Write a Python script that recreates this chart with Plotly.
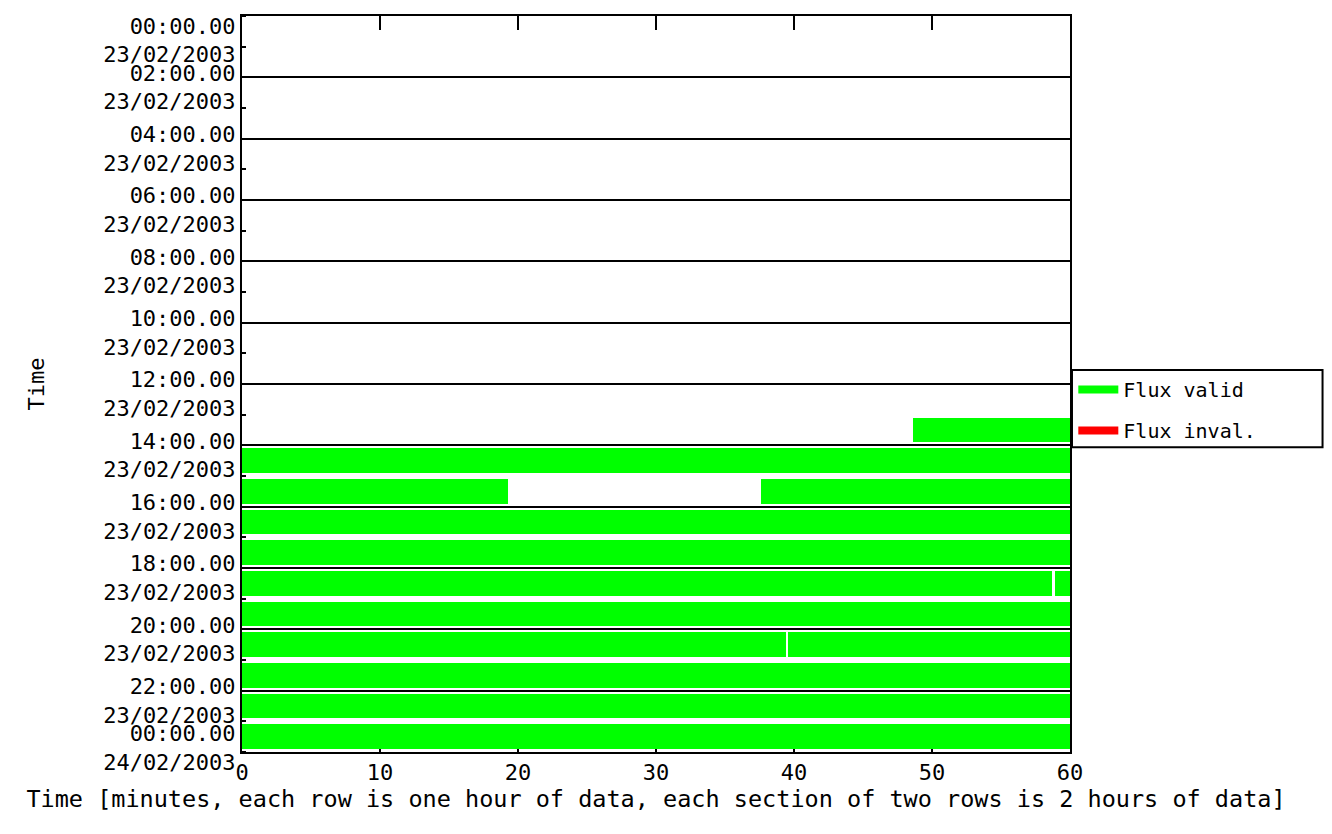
import plotly.graph_objects as go

# hour rows (0 = 00:00-01:00 on 23/02/2003) and valid flux segments [start, end) in minutes
valid_rows = [13, 14, 15, 15, 16, 17, 18, 18, 19, 20, 20, 21, 22, 23]
valid_start = [48.6, 0, 0, 37.6, 0, 0, 0, 58.9, 0, 0, 39.6, 0, 0, 0]
valid_end = [60, 60, 19.3, 60, 60, 60, 58.7, 60, 60, 39.4, 60, 60, 60, 60]

invalid_rows = []
invalid_start = []
invalid_end = []

tick_hours = [0, 2, 4, 6, 8, 10, 12, 14, 16, 18, 20, 22, 24]
tick_times = ["00:00.00", "02:00.00", "04:00.00", "06:00.00", "08:00.00", "10:00.00",
              "12:00.00", "14:00.00", "16:00.00", "18:00.00", "20:00.00", "22:00.00", "00:00.00"]
tick_dates = ["23/02/2003"] * 12 + ["24/02/2003"]
x_ticks = [0, 10, 20, 30, 40, 50, 60]

FONT = "DejaVu Sans Mono"
GREEN = "#00ff00"
RED = "#ff0000"

fig = go.Figure()
for name, color, rows, start, end in [
    ("Flux valid", GREEN, valid_rows, valid_start, valid_end),
    ("Flux inval.", RED, invalid_rows, invalid_start, invalid_end),
]:
    fig.add_trace(
        go.Bar(
            name=name,
            orientation="h",
            y=[r + 0.5 for r in rows],
            base=start,
            x=[e - s for s, e in zip(start, end)],
            width=0.8,
            marker=dict(color=color, line=dict(width=0)),
            showlegend=False,
        )
    )
    # legend key drawn as a thick short line, like the original
    fig.add_trace(
        go.Scatter(
            name=name,
            legendgroup=name,
            x=[None],
            y=[None],
            mode="lines",
            line=dict(color=color, width=8),
            showlegend=True,
        )
    )

# two-line labels; the first is pushed down and the last up so they stay inside the page
tick_text = [f"{t}<br>{d}" for t, d in zip(tick_times, tick_dates)]
tick_text[0] = "<br>" + tick_text[0]
tick_text[-1] = tick_text[-1] + "<br> "

fig.update_xaxes(
    range=[0, 60],
    tickvals=x_ticks,
    ticks="inside",
    ticklen=14,
    tickwidth=2,
    tickcolor="black",
    tickfont=dict(size=22),
    showline=True,
    linecolor="black",
    linewidth=2,
    mirror="allticks",
    showgrid=False,
    zeroline=False,
    automargin=False,
    layer="below traces",
    title=dict(
        text="Time [minutes, each row is one hour of data, each section of two rows is 2 hours of data]",
        font=dict(size=23.5),
        standoff=4,
    ),
)
fig.update_yaxes(
    range=[24, 0],
    tickvals=tick_hours,
    ticktext=tick_text,
    ticks="",
    tickfont=dict(size=22),
    ticklabeloverflow="allow",
    ticklabelshift=-10,
    showline=True,
    linecolor="black",
    linewidth=2,
    mirror=True,
    showgrid=True,
    gridcolor="black",
    gridwidth=2,
    zeroline=False,
    automargin=False,
    layer="below traces",
    minor=dict(dtick=1, tick0=0, ticks="inside", ticklen=4, tickcolor="black", tickwidth=2, showgrid=False),
    title=dict(text="Time", font=dict(size=22), standoff=52),
)

fig.update_layout(
    width=1316,
    height=818,
    margin=dict(l=234, r=254, t=8, b=74),
    plot_bgcolor="white",
    paper_bgcolor="white",
    barmode="overlay",
    bargap=0,
    font=dict(family=FONT, size=20, color="black"),
    legend=dict(
        x=1.004,
        y=0.519,
        xanchor="left",
        yanchor="top",
        borderwidth=0,
        bgcolor="rgba(0,0,0,0)",
        font=dict(size=20),
        itemwidth=40,
        tracegroupgap=12,
    ),
    shapes=[
        # legend frame
        dict(type="rect", xref="paper", yref="paper", x0=1.0024, x1=1.305, y0=0.414, y1=0.519,
             line=dict(color="black", width=2), fillcolor="rgba(0,0,0,0)"),
    ],
)

fig.write_html("out.html")
